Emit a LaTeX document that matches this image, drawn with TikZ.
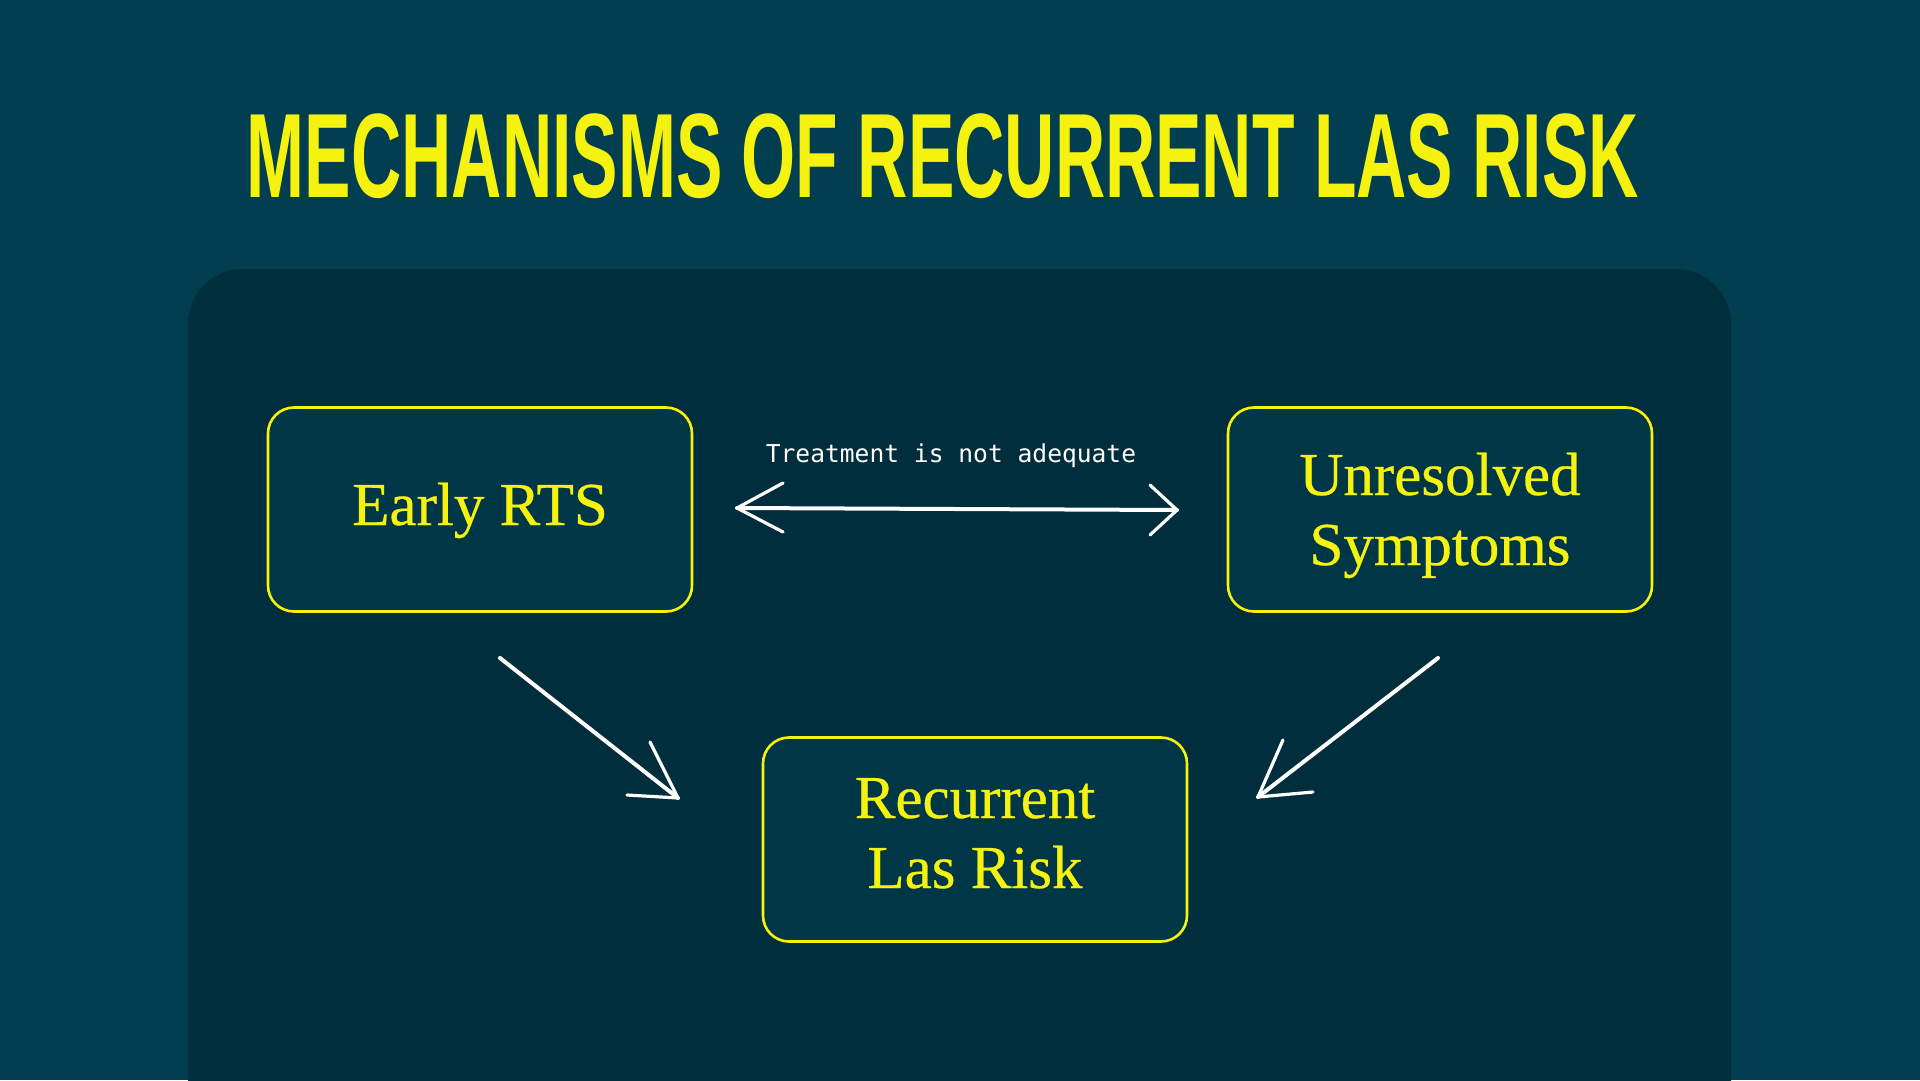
\documentclass[tikz,border=0pt]{standalone}
\usepackage{fontspec}
\setmainfont{Liberation Serif}
\newfontfamily\boxfont{Liberation Serif}[FakeBold=0.5]
\newfontfamily\titlefont{Liberation Sans}
\newfontfamily\monofont{DejaVu Sans Mono}
\usetikzlibrary{calc}
\definecolor{outerbg}{HTML}{003E50}
\definecolor{panelbg}{HTML}{012E3C}
\definecolor{boxbg}{HTML}{003746}
\definecolor{hiyellow}{HTML}{F6F20F}
\tikzset{
  conceptbox/.style={draw=hiyellow, line width=2.6pt, fill=boxbg, rounded corners=26pt,
    minimum width=424pt, minimum height=204pt, inner sep=0pt},
  boxtext/.style={text=hiyellow, align=center, inner sep=0pt, anchor=base,
    font=\boxfont\fontsize{61}{70}\selectfont},
  chalk/.style={draw=white, line width=4pt, line cap=round, line join=round},
  chalkhead/.style={draw=white, line width=3.2pt, line cap=round, line join=round},
}
\begin{document}
\begin{tikzpicture}[x=1pt,y=-1pt]
\useasboundingbox (0,0) rectangle (1920,1080);
\clip (0,0) rectangle (1920,1080);
\fill[outerbg] (0,0) rectangle (1920,1080);
\fill[panelbg, rounded corners=55pt] (188,269) rectangle (1731,1200);

\node[text=hiyellow, anchor=base, inner sep=0pt] (title) at (943,197)
  {\scalebox{0.58}[1]{\titlefont\bfseries\fontsize{120}{120}\selectfont MECHANISMS OF RECURRENT LAS RISK}};

\node[conceptbox] (rts) at (480,509.5) {};
\node[conceptbox] (unres) at (1440,509.5) {};
\node[conceptbox] (recur) at (975,839.5) {};

\node[boxtext] (rtstext) at ($(rts.center)+(0,15.5)$) {Early RTS};
\node[boxtext] (unrestext) at ($(unres.center)+(0,55.5)$) {Unresolved\\Symptoms};
\node[boxtext] (recurtext) at ($(recur.center)+(0,48.5)$) {Recurrent\\Las Risk};

\node[text=white, inner sep=0pt, font=\monofont\fontsize{24.6}{26}\selectfont, anchor=base] (lbl) at (951,462) {Treatment is not adequate};

% double arrow
\coordinate (dl) at (737,508);
\coordinate (dr) at (1177,510);
\draw[chalk] (dl) -- (dr);
\draw[chalkhead] (783,483) -- (dl) -- (783,532);
\draw[chalkhead] (1150,485) -- (dr) -- (1150,535);

% arrow from Early RTS
\coordinate (a1s) at (500,658);
\coordinate (a1e) at (678,798);
\draw[chalk] (a1s) -- (a1e);
\draw[chalkhead] (650,742) -- (a1e) -- (627,795);

% arrow from Unresolved
\coordinate (a2s) at (1438,658);
\coordinate (a2e) at (1258,797);
\draw[chalk] (a2s) -- (a2e);
\draw[chalkhead] (1283,740) -- (a2e) -- (1313,792);
\end{tikzpicture}
\end{document}
